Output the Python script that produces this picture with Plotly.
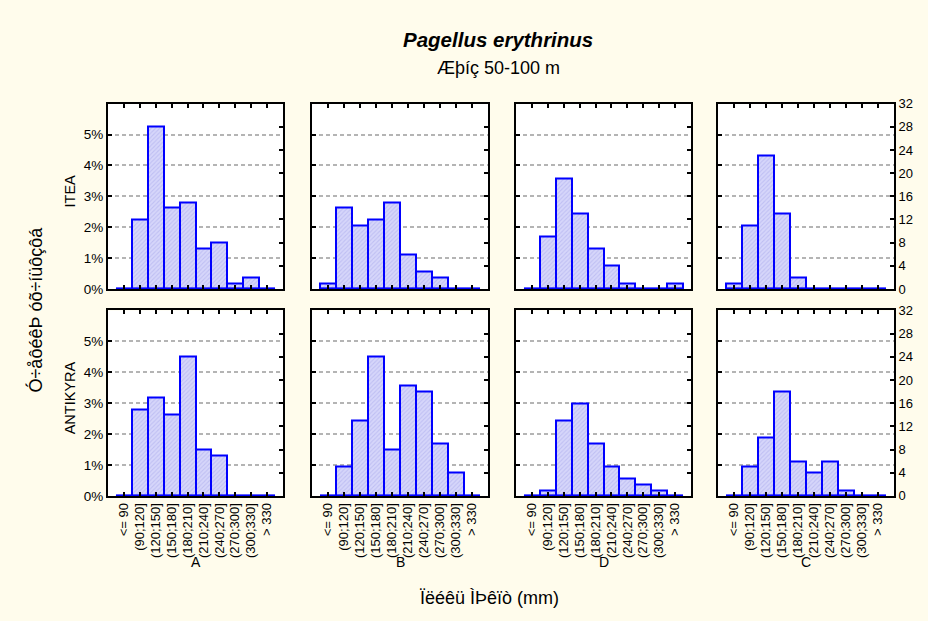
import plotly.graph_objects as go

# Length classes (total length, mm)
length_classes = ["<= 90", "(90;120]", "(120;150]", "(150;180]", "(180;210]",
                  "(210;240]", "(240;270]", "(270;300]", "(300;330]", "> 330"]
areas = ["ITEA", "ANTIKYRA"]
seasons = ["A", "B", "D", "C"]

# Number of fish per length class, area x season
itea_A = [0, 12, 28, 14, 15, 7, 8, 1, 2, 0]
itea_B = [1, 14, 11, 12, 15, 6, 3, 2, 0, 0]
itea_D = [0, 9, 19, 13, 7, 4, 1, 0, 0, 1]
itea_C = [1, 11, 23, 13, 2, 0, 0, 0, 0, 0]
antikyra_A = [0, 15, 17, 14, 24, 8, 7, 0, 0, 0]
antikyra_B = [0, 5, 13, 24, 8, 19, 18, 9, 4, 0]
antikyra_D = [0, 1, 13, 16, 9, 5, 3, 2, 1, 0]
antikyra_C = [0, 5, 10, 18, 6, 4, 6, 1, 0, 0]

counts = {
    "ITEA": [itea_A, itea_B, itea_D, itea_C],
    "ANTIKYRA": [antikyra_A, antikyra_B, antikyra_D, antikyra_C],
}

n_total = 533            # fish measured in the whole sample (percent base)
count_max = 32           # count axis maximum
pct_ticks = [0, 1, 2, 3, 4, 5]
count_ticks = list(range(0, count_max + 1, 4))

W, H = 928, 621
BG = "#FFFCEC"
BLUE = "#0000FF"
FONT = "Arial, Liberation Sans, sans-serif"

# panel frames in pixels
col_px = [(108, 283), (312, 488), (516, 691), (718, 894)]
row_px = [(99, 289), (311, 501)]


def fx(px):
    return px / W


def fy(py):
    return 1 - py / H


fig = go.Figure()
layout = {}
xpos = list(range(len(length_classes)))
n_panels = len(areas) * len(seasons)

k = 0
for r, area in enumerate(areas):
    for c, season in enumerate(seasons):
        k += 1
        xa = f"x{k}"
        ya = f"y{k}"
        yr = f"y{k + n_panels}"
        vals = counts[area][c]

        # blue baseline under empty classes
        fig.add_trace(go.Scatter(
            x=[xpos[0] - 0.5, xpos[-1] + 0.5], y=[0, 0], mode="lines",
            line=dict(color=BLUE, width=2.5), xaxis=xa, yaxis=ya,
            showlegend=False, hoverinfo="skip"))
        fig.add_trace(go.Bar(
            x=xpos, y=vals, width=1.0, xaxis=xa, yaxis=ya,
            marker=dict(color="#D2D2F8",
                        line=dict(color=BLUE, width=2),
                        pattern=dict(shape="/", fgcolor="#A8A8EC",
                                     bgcolor="#D6D6FA", size=3, solidity=0.35)),
            showlegend=False, hoverinfo="skip"))
        # right-hand count scale
        fig.add_trace(go.Scatter(x=[], y=[], xaxis=xa, yaxis=yr,
                                 showlegend=False, hoverinfo="skip"))

        x0, x1 = col_px[c]
        y0, y1 = row_px[r]
        xkey = "xaxis" if k == 1 else f"xaxis{k}"
        ykey = "yaxis" if k == 1 else f"yaxis{k}"
        yrkey = f"yaxis{k + n_panels}"

        layout[xkey] = dict(
            domain=[fx(x0), fx(x1)], anchor=ya, range=[-1.0, 10.0],
            tickmode="array", tickvals=xpos, ticktext=length_classes,
            tickangle=-90, showticklabels=(r == len(areas) - 1),
            ticks="inside", ticklen=4, tickwidth=2, tickcolor="black",
            showline=True, linecolor="black", linewidth=2, mirror="ticks",
            showgrid=False, zeroline=False,
            tickfont=dict(family=FONT, size=13, color="black"))
        layout[ykey] = dict(
            domain=[fy(y1), fy(y0)], anchor=xa, range=[0, count_max],
            tickmode="array",
            tickvals=[n_total * p / 100 for p in pct_ticks],
            ticktext=[f"{p}%" for p in pct_ticks],
            showticklabels=(c == 0),
            ticks="inside", ticklen=4, tickwidth=2, tickcolor="black",
            showline=True, linecolor="black", linewidth=2,
            showgrid=True, gridcolor="#B4B4B4", gridwidth=1.5,
            griddash="4px,3px", zeroline=False,
            tickfont=dict(family=FONT, size=13.5, color="black"))
        layout[yrkey] = dict(
            overlaying=ya, anchor=xa, side="right", range=[0, count_max],
            tickmode="array", tickvals=count_ticks,
            showticklabels=(c == len(seasons) - 1),
            ticks="inside", ticklen=4, tickwidth=2, tickcolor="black",
            showline=True, linecolor="black", linewidth=2,
            showgrid=False, zeroline=False,
            tickfont=dict(family=FONT, size=13, color="black"))

annotations = [
    dict(text="<b><i>Pagellus erythrinus</i></b>", x=fx(498), y=fy(33),
         font=dict(family=FONT, size=20.5, color="black")),
    dict(text="Æþíç 50-100 m", x=fx(498), y=fy(62),
         font=dict(family=FONT, size=18, color="black")),
    dict(text="Ó÷åôéêÞ óõ÷íüôçôá", x=fx(36), y=fy(310), textangle=-90,
         font=dict(family=FONT, size=18, color="black")),
    dict(text="Ïëéêü ÌÞêïò (mm)", x=fx(489), y=fy(606),
         font=dict(family=FONT, size=18, color="black")),
]
row_label_y = [189, 401]
for r, area in enumerate(areas):
    annotations.append(dict(text=area, x=fx(70), y=fy(row_label_y[r]),
                            textangle=-90,
                            font=dict(family=FONT, size=14.5, color="black")))
for c, season in enumerate(seasons):
    annotations.append(dict(text=season, x=fx((col_px[c][0] + col_px[c][1]) / 2),
                            y=fy(569),
                            font=dict(family=FONT, size=14, color="black")))
for a in annotations:
    a.update(xref="paper", yref="paper", showarrow=False,
             xanchor="center", yanchor="middle")

fig.update_layout(
    width=W, height=H, margin=dict(l=0, r=0, t=0, b=0),
    paper_bgcolor=BG, plot_bgcolor="white",
    barmode="overlay", bargap=0,
    annotations=annotations, showlegend=False,
    **layout)

fig.write_html("out.html")
